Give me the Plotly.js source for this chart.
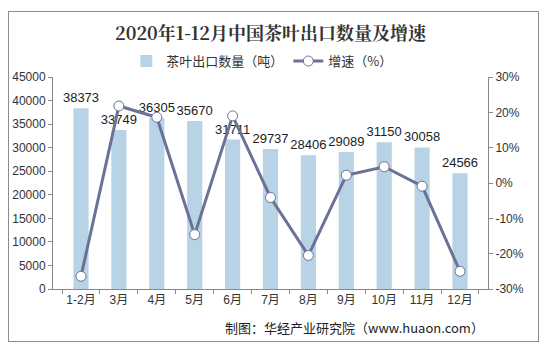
<!DOCTYPE html>
<html><head><meta charset="utf-8">
<script src="https://cdn.plot.ly/plotly-3.0.1.min.js"></script>
<style>
html,body{margin:0;padding:0;background:#fff;}
#wrap{position:relative;width:546px;height:350px;}
#chart{width:546px;height:350px;}
#frame{position:absolute;left:8px;top:11px;width:529px;height:329px;border:1px solid #8c8c8c;pointer-events:none;}
</style></head>
<body>
<div id="wrap"><div id="chart"></div><div id="frame"></div></div>
<script>
const months = ['1-2月','3月','4月','5月','6月','7月','8月','9月','10月','11月','12月'];
const exportTons = [38373,33749,36305,35670,31711,29737,28406,29089,31150,30058,24566];
const growthPct = [-26.4,21.8,18.6,-14.6,19.0,-4.1,-20.5,2.2,4.6,-0.9,-25.0];
const yTicks = [0,5000,10000,15000,20000,25000,30000,35000,40000,45000];
const y2Ticks = [-30,-20,-10,0,10,20,30];

const font = 'Liberation Sans, Arial, Noto Sans CJK SC, sans-serif';
const traces = [
  {type:'bar', x:months, y:exportTons, name:'茶叶出口数量（吨）',
   marker:{color:'#b7d3e5'}, text:exportTons.map(String), textposition:'outside', constraintext:'none',
   cliponaxis:false, textfont:{size:13,color:'#222',family:font}, hoverinfo:'none'},
  {type:'scatter', mode:'lines+markers', x:months, y:growthPct, yaxis:'y2', name:'增速（%）',
   line:{color:'#6a7397', width:3}, marker:{size:10, color:'#ffffff', line:{color:'#6a7397', width:1}},
   cliponaxis:false}
];
const layout = {
  width:546, height:350,
  margin:{l:53, r:58, t:77, b:61},
  paper_bgcolor:'#fff', plot_bgcolor:'#fff',
  title:{text:'<b>2020年1-12月中国茶叶出口数量及增速</b>', x:0.5, xref:'paper', xanchor:'center', y:0.905, yanchor:'middle',
    font:{family:'Noto Serif CJK SC, Noto Sans CJK SC, serif', size:18, color:'#333'}},
  bargap:0.6,
  showlegend:true,
  legend:{orientation:'h', x:0.48, xanchor:'center', y:1.075, yanchor:'middle',
    font:{family:'Noto Sans CJK SC, sans-serif', size:13, color:'#333'}, itemwidth:30, traceorder:'normal'},
  xaxis:{type:'category', showline:true, linecolor:'#888', linewidth:1, ticks:'outside', ticklen:4, tickcolor:'#888',
    tickson:'boundaries', tickangle:0, showgrid:false, tickfont:{family:font, size:12, color:'#333'}, zeroline:false},
  yaxis:{range:[0,45000], tickvals:yTicks, ticktext:yTicks.map(String), showline:true, linecolor:'#888', linewidth:1,
    ticks:'outside', ticklen:4, tickcolor:'#888', showgrid:false, zeroline:false,
    tickfont:{family:font, size:12, color:'#333'}},
  yaxis2:{overlaying:'y', side:'right', range:[-30,30], tickvals:y2Ticks, ticktext:y2Ticks.map(v=>v+'%'),
    showline:true, linecolor:'#888', linewidth:1, ticks:'outside', ticklen:4, tickcolor:'#888', showgrid:false, zeroline:false,
    tickfont:{family:font, size:12, color:'#333'}},
  annotations:[{text:'制图：华经产业研究院（www.huaon.com）', xref:'paper', yref:'paper', x:0.995, y:-0.18,
    xanchor:'right', yanchor:'middle', showarrow:false, font:{family:'Noto Sans CJK SC, Liberation Sans, sans-serif', size:13, color:'#222'}}]
};
Plotly.newPlot('chart', traces, layout, {displayModeBar:false, staticPlot:true});
</script>
</body></html>
